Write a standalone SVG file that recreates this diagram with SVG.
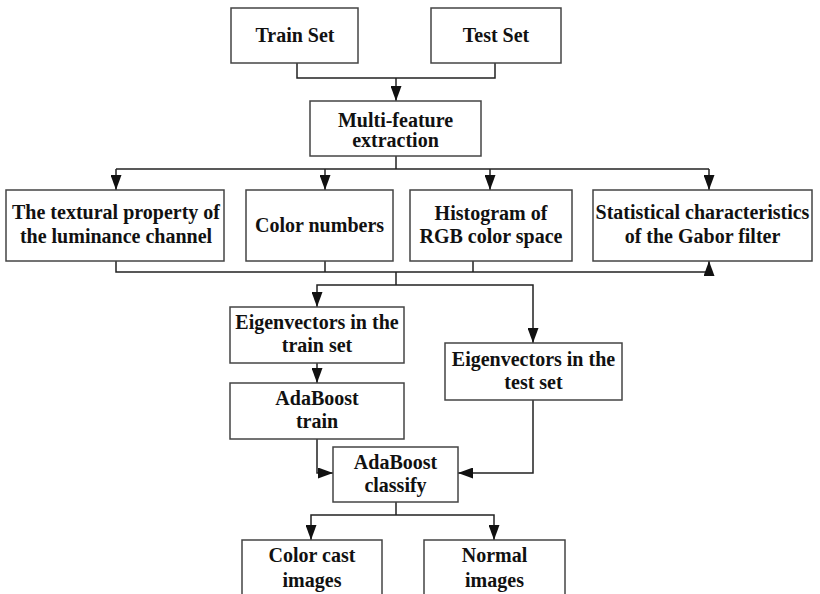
<svg xmlns="http://www.w3.org/2000/svg" width="820" height="594" viewBox="0 0 820 594">
  <defs>
    <marker id="arrow" viewBox="0 0 15 11" refX="15" refY="5.5" markerWidth="15" markerHeight="11" markerUnits="userSpaceOnUse" orient="auto">
      <path d="M0,0 L15,5.5 L0,11 Z" fill="#111"/>
    </marker>
  </defs>
  <style>
    .box { fill: #fff; stroke: #444; stroke-width: 1.5; }
    .lbl { font-family: "Liberation Serif", "Times New Roman", serif; font-weight: bold; font-size: 20px; fill: #111; text-anchor: middle; }
    .wire { fill: none; stroke: #222; stroke-width: 1.5; }
  </style>
  <rect x="0" y="0" width="820" height="594" fill="#fff"/>

  <!-- connectors -->
  <g id="connectors">
    <!-- inputs merge into feature extraction -->
    <path class="wire" d="M297,63 V78 H495 V63"/>
    <path class="wire" d="M396,78 V101" marker-end="url(#arrow)"/>
    <!-- fan out to the four feature boxes -->
    <path class="wire" d="M396,156 V169"/>
    <path class="wire" d="M116,169 H709"/>
    <path class="wire" d="M709,169 V190" marker-end="url(#arrow)"/>
    <path class="wire" d="M116,169 V190" marker-end="url(#arrow)"/>
    <path class="wire" d="M325,169 V190" marker-end="url(#arrow)"/>
    <path class="wire" d="M490,169 V190" marker-end="url(#arrow)"/>
    <!-- features merge -->
    <path class="wire" d="M116,261 V272 H709"/>
    <path class="wire" d="M709,272 V261" marker-end="url(#arrow)"/>
    <path class="wire" d="M325,261 V272"/>
    <path class="wire" d="M473,261 V272"/>
    <!-- split into train / test eigenvectors -->
    <path class="wire" d="M396,272 V285"/>
    <path class="wire" d="M396,285 H317 V307" marker-end="url(#arrow)"/>
    <path class="wire" d="M396,285 H533 V343" marker-end="url(#arrow)"/>
    <path class="wire" d="M317,363 V383" marker-end="url(#arrow)"/>
    <!-- into classifier -->
    <path class="wire" d="M317,439 V473 H333" marker-end="url(#arrow)"/>
    <path class="wire" d="M533,400 V473 H458" marker-end="url(#arrow)"/>
    <!-- outputs -->
    <path class="wire" d="M396,502 V515"/>
    <path class="wire" d="M396,515 H311 V540" marker-end="url(#arrow)"/>
    <path class="wire" d="M396,515 H494 V540" marker-end="url(#arrow)"/>
  </g>

  <g id="train-set">
    <rect class="box" x="231" y="8" width="127" height="55"/>
    <text class="lbl" x="295" y="42">Train Set</text>
  </g>
  <g id="test-set">
    <rect class="box" x="431" y="8" width="130" height="55"/>
    <text class="lbl" x="496" y="42">Test Set</text>
  </g>
  <g id="multi-feature">
    <rect class="box" x="310" y="101" width="171" height="55"/>
    <text class="lbl" x="395.5" y="127">Multi-feature</text>
    <text class="lbl" x="395.5" y="147">extraction</text>
  </g>
  <g id="textural">
    <rect class="box" x="6" y="190" width="218" height="71"/>
    <text class="lbl" x="116" y="219">The textural property of</text>
    <text class="lbl" x="116" y="243">the luminance channel</text>
  </g>
  <g id="color-numbers">
    <rect class="box" x="246" y="190" width="147" height="71"/>
    <text class="lbl" x="319.5" y="232">Color numbers</text>
  </g>
  <g id="histogram">
    <rect class="box" x="410" y="190" width="162" height="71"/>
    <text class="lbl" x="491" y="220">Histogram of</text>
    <text class="lbl" x="491" y="243">RGB color space</text>
  </g>
  <g id="gabor">
    <rect class="box" x="593" y="190" width="219" height="71"/>
    <text class="lbl" x="702.5" y="219">Statistical characteristics</text>
    <text class="lbl" x="702.5" y="243">of the Gabor filter</text>
  </g>
  <g id="eig-train">
    <rect class="box" x="230" y="307" width="174" height="56"/>
    <text class="lbl" x="317" y="329">Eigenvectors in the</text>
    <text class="lbl" x="317" y="352">train set</text>
  </g>
  <g id="ada-train">
    <rect class="box" x="230" y="383" width="174" height="56"/>
    <text class="lbl" x="317" y="405">AdaBoost</text>
    <text class="lbl" x="317" y="428">train</text>
  </g>
  <g id="eig-test">
    <rect class="box" x="445" y="343" width="177" height="57"/>
    <text class="lbl" x="533.5" y="366">Eigenvectors in the</text>
    <text class="lbl" x="533.5" y="389">test set</text>
  </g>
  <g id="ada-classify">
    <rect class="box" x="333" y="447" width="125" height="55"/>
    <text class="lbl" x="395.5" y="469">AdaBoost</text>
    <text class="lbl" x="395.5" y="492">classify</text>
  </g>
  <g id="color-cast">
    <rect class="box" x="242" y="540" width="140" height="70"/>
    <text class="lbl" x="312" y="562">Color cast</text>
    <text class="lbl" x="312" y="587">images</text>
  </g>
  <g id="normal">
    <rect class="box" x="424" y="540" width="141" height="70"/>
    <text class="lbl" x="494.5" y="562">Normal</text>
    <text class="lbl" x="494.5" y="587">images</text>
  </g>
</svg>
